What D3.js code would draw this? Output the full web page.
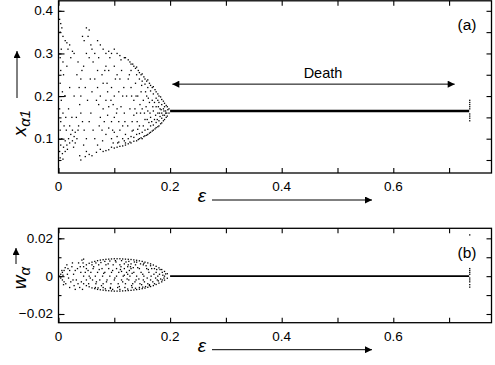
<!DOCTYPE html>
<html>
<head>
<meta charset="utf-8">
<script src="https://cdn.jsdelivr.net/npm/d3@7"></script>
<style>
body { margin: 0; background: #fff; }
text { font-family: "Liberation Sans", Arial, sans-serif; }
</style>
</head>
<body>
<div id="chart"></div>
<script>
// panel (a): x_alpha1 against epsilon
var cloudA = [
[0.002,0.38],[0.004,0.37],[0.003,0.35],[0.006,0.36],[0.008,0.34],[0.012,0.33],[0.015,0.325],[0.017,0.31],[0.005,0.31],[0.003,0.29],
[0.008,0.28],[0.004,0.26],[0.009,0.25],[0.003,0.23],[0.007,0.21],[0.005,0.19],[0.011,0.2],[0.002,0.17],[0.008,0.16],[0.004,0.14],
[0.01,0.13],[0.003,0.12],[0.014,0.12],[0.006,0.1],[0.012,0.095],[0.018,0.1],[0.004,0.085],[0.009,0.08],[0.015,0.085],[0.002,0.07],
[0.007,0.065],[0.012,0.07],[0.02,0.09],[0.003,0.055],[0.008,0.052],[0.016,0.075],[0.022,0.11],[0.025,0.12],[0.02,0.13],[0.013,0.15],
[0.018,0.17],[0.024,0.15],[0.025,0.095],[0.028,0.105],[0.03,0.115],[0.03,0.09],[0.033,0.1],[0.027,0.08],[0.035,0.12],[0.038,0.06],
[0.04,0.05],[0.036,0.13],[0.012,0.2],[0.02,0.22],[0.015,0.27],[0.022,0.29],[0.025,0.305],[0.028,0.3],[0.02,0.32],
[0.038,0.18],[0.04,0.2],[0.037,0.22],[0.04,0.24],[0.042,0.26],[0.045,0.27],[0.04,0.16],[0.043,0.14],[0.046,0.12],[0.05,0.1],
[0.045,0.085],[0.05,0.07],[0.055,0.063],[0.06,0.06],[0.048,0.058],[0.043,0.34],[0.046,0.33],[0.05,0.36],[0.055,0.355],[0.053,0.34],
[0.058,0.32],[0.05,0.3],[0.055,0.29],[0.06,0.31],[0.065,0.3],[0.062,0.28],[0.048,0.22],[0.052,0.19],[0.057,0.24],[0.06,0.21],
[0.058,0.16],[0.055,0.14],[0.062,0.12],[0.065,0.1],[0.07,0.085],[0.075,0.075],[0.068,0.068],[0.08,0.07],[0.085,0.072],[0.09,0.074],
[0.07,0.33],[0.075,0.32],[0.08,0.31],[0.072,0.29],[0.085,0.3],[0.09,0.305],[0.095,0.3],[0.1,0.31],[0.105,0.3],[0.11,0.295],
[0.112,0.285],[0.118,0.29],[0.07,0.26],[0.078,0.25],[0.085,0.27],[0.09,0.26],[0.1,0.27],[0.105,0.25],[0.11,0.24],[0.07,0.22],
[0.075,0.2],[0.08,0.23],[0.088,0.21],[0.095,0.22],[0.1,0.2],[0.108,0.21],[0.115,0.2],[0.072,0.18],[0.08,0.17],[0.085,0.19],
[0.09,0.175],[0.098,0.18],[0.105,0.17],[0.112,0.175],[0.118,0.16],[0.075,0.15],[0.082,0.14],[0.088,0.155],[0.095,0.14],[0.1,0.15],
[0.108,0.14],[0.115,0.13],[0.078,0.12],[0.085,0.11],[0.09,0.125],[0.095,0.1],[0.1,0.115],[0.105,0.105],[0.11,0.12],[0.115,0.1],
[0.12,0.11],[0.095,0.08],[0.1,0.078],[0.105,0.08],[0.11,0.082],[0.115,0.083],[0.12,0.085],[0.098,0.09],[0.108,0.092],[0.118,0.095],
[0.12,0.29],[0.125,0.285],[0.128,0.28],[0.13,0.275],[0.133,0.275],[0.135,0.27],[0.138,0.265],[0.14,0.268],[0.143,0.26],[0.145,0.255],
[0.148,0.25],[0.15,0.252],[0.153,0.245],[0.155,0.24],[0.158,0.235],[0.16,0.238],[0.163,0.23],[0.165,0.225],[0.168,0.22],[0.17,0.222],
[0.173,0.215],[0.175,0.21],[0.178,0.205],[0.18,0.2],[0.183,0.198],[0.185,0.192],[0.188,0.188],[0.19,0.183],[0.193,0.178],[0.195,0.175],
[0.198,0.17],[0.13,0.26],[0.14,0.25],[0.15,0.235],[0.16,0.22],[0.17,0.205],[0.175,0.195],[0.18,0.185],[0.185,0.18],[0.19,0.175],
[0.145,0.24],[0.155,0.228],[0.165,0.212],[0.178,0.19],
[0.12,0.09],[0.125,0.088],[0.128,0.092],[0.13,0.09],[0.135,0.094],[0.14,0.095],[0.143,0.098],[0.145,0.1],[0.148,0.102],[0.15,0.1],
[0.153,0.105],[0.155,0.107],[0.158,0.108],[0.16,0.11],[0.163,0.113],[0.165,0.115],[0.168,0.118],[0.17,0.12],[0.173,0.123],[0.175,0.126],
[0.178,0.128],[0.18,0.13],[0.183,0.135],[0.185,0.137],[0.188,0.142],[0.19,0.145],[0.193,0.15],[0.195,0.153],[0.198,0.16],
[0.125,0.1],[0.13,0.105],[0.135,0.103],[0.14,0.11],[0.145,0.112],[0.15,0.115],[0.155,0.12],[0.16,0.122],[0.165,0.13],[0.17,0.132],
[0.175,0.138],[0.18,0.142],[0.185,0.148],[0.19,0.155],[0.132,0.118],[0.142,0.122],[0.152,0.13],[0.162,0.138],[0.172,0.145],[0.182,0.152],
[0.192,0.16],[0.122,0.2],[0.125,0.24],[0.128,0.17],[0.13,0.22],[0.132,0.14],[0.135,0.19],[0.138,0.23],[0.14,0.16],[0.142,0.2],
[0.145,0.13],[0.148,0.21],[0.15,0.17],[0.152,0.19],[0.155,0.145],[0.158,0.2],[0.16,0.165],[0.163,0.185],[0.165,0.15],[0.168,0.19],
[0.17,0.165],[0.175,0.175],[0.178,0.16],[0.182,0.17],[0.185,0.16],[0.188,0.17],[0.192,0.165],[0.124,0.13],[0.135,0.155],[0.146,0.18],
[0.157,0.175],[0.167,0.14],
[0.065,0.24],[0.068,0.19],[0.073,0.13],[0.079,0.095],[0.083,0.26],[0.087,0.23],[0.092,0.29],[0.094,0.19],[0.097,0.12],[0.102,0.24],
[0.104,0.16],[0.106,0.09],[0.113,0.26],[0.117,0.22],[0.119,0.14],[0.127,0.25],[0.131,0.2],[0.134,0.12],[0.137,0.17],[0.139,0.2],
[0.141,0.14],[0.147,0.16],[0.149,0.225],[0.154,0.16],[0.156,0.21],[0.159,0.145],[0.161,0.195],[0.164,0.16],[0.169,0.175],[0.172,0.185],
[0.174,0.155],[0.177,0.145],[0.179,0.175],[0.181,0.16],[0.184,0.168],[0.187,0.155],[0.189,0.165],[0.194,0.16],[0.196,0.168],[0.035,0.28],
[0.032,0.15],[0.028,0.2],[0.033,0.25],
[0.737,0.19],[0.737,0.185],[0.737,0.18],[0.737,0.175],[0.737,0.17],[0.737,0.158],[0.737,0.153],[0.737,0.148],[0.737,0.142]
];
var deathA = [[0.2,0.165],[0.736,0.165]];

// panel (b): w_alpha against epsilon
var cloudB = [
[0.045,0.005],[0.05,0.006],[0.055,0.0068],[0.06,0.0074],[0.065,0.0078],[0.07,0.0082],[0.075,0.0085],[0.08,0.0087],[0.085,0.0089],[0.09,0.009],
[0.095,0.0091],[0.1,0.0092],[0.105,0.0092],[0.11,0.0092],[0.115,0.0091],[0.12,0.009],[0.125,0.0089],[0.13,0.0088],[0.135,0.0086],[0.14,0.0084],
[0.145,0.0081],[0.15,0.0078],[0.155,0.0074],[0.16,0.007],[0.165,0.0065],[0.17,0.0059],[0.175,0.0052],[0.18,0.0044],[0.185,0.0035],[0.19,0.0025],
[0.195,0.0013],
[0.045,-0.004],[0.05,-0.005],[0.055,-0.0056],[0.06,-0.0062],[0.065,-0.0066],[0.07,-0.007],[0.075,-0.0072],[0.08,-0.0074],[0.085,-0.0076],[0.09,-0.0077],
[0.095,-0.0078],[0.1,-0.0079],[0.105,-0.0079],[0.11,-0.0079],[0.115,-0.0078],[0.12,-0.0077],[0.125,-0.0076],[0.13,-0.0075],[0.135,-0.0073],[0.14,-0.0071],
[0.145,-0.0069],[0.15,-0.0066],[0.155,-0.0063],[0.16,-0.0059],[0.165,-0.0055],[0.17,-0.005],[0.175,-0.0044],[0.18,-0.0037],[0.185,-0.003],[0.19,-0.0021],
[0.195,-0.0011],
[0.06,0.006],[0.072,0.006],[0.085,0.006],[0.098,0.006],[0.11,0.006],[0.125,0.006],[0.138,0.006],[0.152,0.006],[0.165,0.0055],
[0.05,0.004],[0.062,0.004],[0.078,0.004],[0.09,0.004],[0.104,0.004],[0.118,0.004],[0.13,0.004],[0.145,0.004],[0.158,0.004],[0.172,0.004],[0.182,0.0035],
[0.048,0.002],[0.058,0.002],[0.07,0.002],[0.083,0.002],[0.095,0.002],[0.108,0.002],[0.122,0.002],[0.135,0.002],[0.148,0.002],[0.162,0.002],[0.175,0.002],[0.186,0.002],
[0.045,0],[0.055,0],[0.066,0],[0.079,0],[0.092,0],[0.104,0],[0.116,0],[0.128,0],[0.14,0],[0.153,0],[0.166,0],[0.178,0],[0.19,0],
[0.05,-0.002],[0.061,-0.002],[0.074,-0.002],[0.087,-0.002],[0.1,-0.002],[0.113,-0.002],[0.126,-0.002],[0.139,-0.002],[0.152,-0.002],[0.165,-0.002],[0.177,-0.002],[0.186,-0.002],
[0.054,-0.004],[0.067,-0.004],[0.08,-0.004],[0.094,-0.004],[0.107,-0.004],[0.12,-0.004],[0.133,-0.004],[0.146,-0.004],[0.16,-0.004],[0.172,-0.004],
[0.066,-0.006],[0.08,-0.006],[0.093,-0.006],[0.106,-0.006],[0.119,-0.006],[0.132,-0.006],[0.145,-0.006],[0.156,-0.0055],
[0.112,0.005],[0.118,0.0065],[0.124,0.005],[0.127,0.003],[0.124,0.001],[0.118,0.0005],[0.113,0.0025],[0.13,0.0065],[0.134,0.0045],[0.132,0.0015],
[0.053,0.003],[0.057,-0.001],[0.063,0.005],[0.068,-0.003],[0.073,0.0035],[0.077,-0.005],[0.081,0.0015],[0.086,-0.003],[0.089,0.0065],[0.093,-0.0065],
[0.097,0.003],[0.101,-0.001],[0.103,0.0075],[0.109,-0.0055],[0.111,0.0035],[0.115,-0.003],[0.121,0.0075],[0.123,-0.0015],[0.129,0.005],[0.131,-0.005],
[0.136,0.0075],[0.137,-0.003],[0.142,0.0045],[0.144,-0.0015],[0.147,0.0065],[0.149,-0.0045],[0.151,0.001],[0.154,-0.003],[0.157,0.0055],[0.159,-0.001],
[0.161,0.0035],[0.163,-0.0045],[0.167,0.004],[0.169,-0.003],[0.171,0.001],[0.174,-0.001],[0.176,0.0035],[0.179,-0.0025],[0.181,0.001],[0.183,-0.0015],
[0.187,0.0005],[0.189,-0.001],[0.192,0.0012],[0.067,0.007],[0.076,0.0072],[0.083,0.0078],[0.092,0.008],[0.102,0.0082],[0.113,0.0082],[0.126,0.0078],
[0.14,0.0074],[0.153,0.0068],[0.071,-0.0062],[0.084,-0.0067],[0.097,-0.007],[0.11,-0.007],[0.124,-0.0068],[0.138,-0.0064],[0.151,-0.0058],[0.163,-0.005],
[0.002,0],[0.004,0.001],[0.004,-0.001],[0.007,0.002],[0.007,-0.002],[0.01,0.003],[0.01,-0.003],[0.012,0.0045],[0.013,-0.004],[0.016,0.001],
[0.018,-0.001],[0.02,0.003],[0.022,-0.003],[0.015,0.006],[0.024,0.005],[0.027,0.001],[0.028,-0.005],[0.03,0.003],[0.032,-0.002],[0.034,0.004],
[0.036,0.007],[0.038,-0.006],[0.04,0.002],[0.042,0.0085],[0.045,0.009],[0.044,0.007],[0.043,-0.007],[0.025,0.007],[0.02,-0.006],[0.035,-0.004],
[0.03,-0.007],[0.008,0.0005],[0.006,0.003],[0.009,-0.0045],[0.017,0.004],[0.026,-0.002],[0.039,0.005],[0.041,-0.003],
[0.737,0.004],[0.737,0.003],[0.737,0.002],[0.737,0.001],[0.737,-0.001],[0.737,-0.002],[0.737,-0.003],[0.737,-0.0045],[0.737,-0.0058],[0.737,0.0218]
];
var deathB = [[0.2,0],[0.736,0]];

var xTicks = [0, 0.1, 0.2, 0.3, 0.4, 0.5, 0.6, 0.7];
var xLabels = [0, 0.2, 0.4, 0.6];
var yTicksA = [0.1, 0.2, 0.3, 0.4];
var yMinorA = [0.05, 0.1, 0.15, 0.2, 0.25, 0.3, 0.35, 0.4];
var yTicksB = [-0.02, 0, 0.02];
var yMinorB = [-0.02, -0.01, 0, 0.01, 0.02];

var width = 495, height = 365;
var svg = d3.select("#chart").append("svg")
    .attr("width", width)
    .attr("height", height);

svg.append("defs").append("marker")
    .attr("id", "head")
    .attr("viewBox", "0 0 10 10")
    .attr("refX", 10).attr("refY", 5)
    .attr("markerWidth", 9).attr("markerHeight", 7)
    .attr("markerUnits", "userSpaceOnUse")
    .attr("orient", "auto-start-reverse")
    .append("path")
    .attr("d", "M0,0L10,5L0,10z")
    .attr("fill", "#000");

function panel(cfg) {
  var x = d3.scaleLinear().domain([0, 0.776]).range([58.5, 491.5]);
  var y = d3.scaleLinear().domain(cfg.ydom).range(cfg.yrange);
  var g = svg.append("g");
  var top = cfg.yrange[1], bot = cfg.yrange[0];

  // inward ticks on all four sides
  g.append("g").attr("transform", "translate(0," + bot + ")")
    .call(d3.axisTop(x).tickValues(xTicks).tickSize(5).tickFormat(""));
  g.append("g").attr("transform", "translate(0," + top + ")")
    .call(d3.axisBottom(x).tickValues(xTicks).tickSize(5).tickFormat(""));
  g.append("g").attr("transform", "translate(58.5,0)")
    .call(d3.axisRight(y).tickValues(cfg.minor).tickSize(3).tickFormat(""));
  g.append("g").attr("transform", "translate(58.5,0)")
    .call(d3.axisRight(y).tickValues(cfg.major).tickSize(6).tickFormat(""));
  g.append("g").attr("transform", "translate(491.5,0)")
    .call(d3.axisLeft(y).tickValues(cfg.minor).tickSize(5).tickFormat(""));
  g.selectAll(".domain").remove();
  g.selectAll(".tick line").attr("stroke", "#000").attr("stroke-width", 1.1);

  // tick labels
  g.selectAll(".xl").data(xLabels).enter().append("text")
    .attr("x", function(d) { return x(d); })
    .attr("y", bot + 18)
    .attr("text-anchor", "middle")
    .attr("font-size", 13.5)
    .text(function(d) { return d3.format("")(d); });
  g.selectAll(".yl").data(cfg.major).enter().append("text")
    .attr("x", 53)
    .attr("y", function(d) { return y(d) + 4.5; })
    .attr("text-anchor", "end")
    .attr("font-size", 13.5)
    .text(function(d) { return d3.format("")(d); });

  // fixed point line after death
  g.append("path").datum(cfg.line)
    .attr("d", d3.line().x(function(d) { return x(d[0]); }).y(function(d) { return y(d[1]); }))
    .attr("stroke", "#000").attr("stroke-width", cfg.lw).attr("fill", "none");

  // attractor points
  g.selectAll(".pt").data(cfg.cloud).enter().append("rect")
    .attr("x", function(d) { return x(d[0]) - 0.65; })
    .attr("y", function(d) { return y(d[1]) - 0.65; })
    .attr("width", 1.3).attr("height", 1.3)
    .attr("fill", "#000");

  // frame
  g.append("rect")
    .attr("x", 58.5).attr("y", top)
    .attr("width", 433).attr("height", bot - top)
    .attr("fill", "none").attr("stroke", "#000").attr("stroke-width", 1.3);

  g.append("text")
    .attr("x", 467).attr("y", top + cfg.tagDy)
    .attr("text-anchor", "middle").attr("font-size", 15.5)
    .text(cfg.tag);

  // epsilon label with arrow
  var ey = bot + 29;
  g.append("text")
    .attr("x", 202).attr("y", ey)
    .attr("text-anchor", "middle")
    .attr("font-family", "'Liberation Serif', serif")
    .attr("font-style", "italic").attr("font-size", 19)
    .text("\u03b5");
  g.append("line")
    .attr("x1", 212).attr("x2", 372).attr("y1", ey - 2).attr("y2", ey - 2)
    .attr("stroke", "#000").attr("stroke-width", 1)
    .attr("marker-end", "url(#head)");

  return { x: x, y: y, g: g };
}

var pa = panel({
  ydom: [0.0195, 0.4235], yrange: [173, 0.8],
  major: yTicksA, minor: yMinorA,
  cloud: cloudA, line: deathA, lw: 2.3,
  tag: "(a)", tagDy: 29
});
var pb = panel({
  ydom: [-0.0246, 0.0253], yrange: [322.7, 228.3],
  major: yTicksB, minor: yMinorB,
  cloud: cloudB, line: deathB, lw: 1.8,
  tag: "(b)", tagDy: 30
});

// Death annotation
pa.g.append("line")
  .attr("x1", pa.x(0.204)).attr("x2", pa.x(0.71))
  .attr("y1", pa.y(0.228)).attr("y2", pa.y(0.228))
  .attr("stroke", "#000").attr("stroke-width", 1)
  .attr("marker-start", "url(#head)").attr("marker-end", "url(#head)");
pa.g.append("text")
  .attr("x", pa.x(0.474)).attr("y", pa.y(0.228) - 6)
  .attr("text-anchor", "middle").attr("font-size", 14.5)
  .text("Death");

// y labels (rotated, italic serif) with arrows
var la = svg.append("text")
  .attr("transform", "translate(26,123) rotate(-90)")
  .attr("text-anchor", "middle")
  .attr("font-family", "'Liberation Serif', serif")
  .attr("font-style", "italic").attr("font-size", 19);
la.append("tspan").text("x");
la.append("tspan").attr("dy", 4).attr("font-size", 15).text("\u03b11");
svg.append("line")
  .attr("x1", 17).attr("x2", 17).attr("y1", 98).attr("y2", 51)
  .attr("stroke", "#000").attr("stroke-width", 1)
  .attr("marker-end", "url(#head)");

var lb = svg.append("text")
  .attr("transform", "translate(26,278) rotate(-90)")
  .attr("text-anchor", "middle")
  .attr("font-family", "'Liberation Serif', serif")
  .attr("font-style", "italic").attr("font-size", 19);
lb.append("tspan").text("w");
lb.append("tspan").attr("dy", 4).attr("font-size", 15).text("\u03b1");
svg.append("line")
  .attr("x1", 16).attr("x2", 16).attr("y1", 264).attr("y2", 248)
  .attr("stroke", "#000").attr("stroke-width", 1)
  .attr("marker-end", "url(#head)");
</script>
</body>
</html>
